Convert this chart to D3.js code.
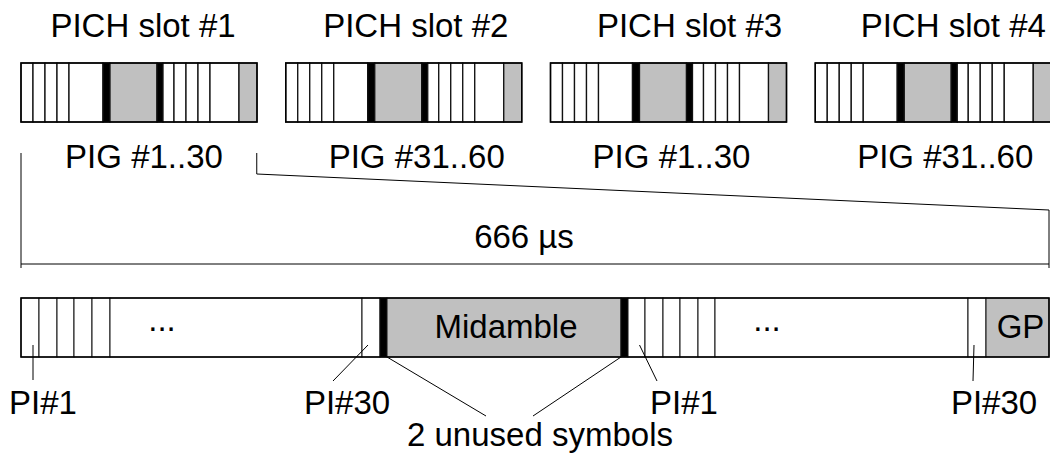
<!DOCTYPE html>
<html>
<head>
<meta charset="utf-8">
<script src="https://d3js.org/d3.v7.min.js"></script>
<style>
  html, body { margin: 0; padding: 0; background: #fff; }
  svg text { font-family: "Liberation Sans", Arial, sans-serif; font-size: 33px; fill: #000; }
</style>
</head>
<body>
<div id="chart"></div>
<script>
// PICH slots shown in the top row
var slotNames = ["PICH slot #1", "PICH slot #2", "PICH slot #3", "PICH slot #4"];
var groupNames = ["PIG #1..30", "PIG #31..60", "PIG #1..30", "PIG #31..60"];

// one slot, schematic (units of the small box, 0..236)
var slotSegStart = [0, 12, 24, 36, 48, 82, 89, 136, 142, 153, 165, 177, 189, 218];
var slotSegEnd   = [12, 24, 36, 48, 82, 89, 136, 142, 153, 165, 177, 189, 218, 236];
var slotSegKind  = ["pi", "pi", "pi", "pi", "free", "unused", "mid", "unused", "pi", "pi", "pi", "pi", "free", "gp"];

// one slot, zoomed (units of the big box, 0..1028)
var burstSegStart = [0, 18, 36, 53, 71, 89, 341, 359, 366, 600, 607, 624, 642, 659, 677, 694, 947, 965];
var burstSegEnd   = [18, 36, 53, 71, 89, 341, 359, 366, 600, 607, 624, 642, 659, 677, 694, 947, 965, 1028];
var burstSegKind  = ["pi", "pi", "pi", "pi", "pi", "free", "pi", "unused", "mid", "unused", "pi", "pi", "pi", "pi", "pi", "free", "pi", "gp"];
var burstSegText  = ["", "", "", "", "", "...", "", "", "Midamble", "", "", "", "", "", "", "...", "", "GP"];

// callouts below the zoomed slot: which segment, label
var calloutSeg   = [0, 6, 10, 16];
var calloutLabel = ["PI#1", "PI#30", "PI#1", "PI#30"];
var unusedSeg = [7, 9];
var unusedLabel = "2 unused symbols";
var durationLabel = "666 µs";

var width = 1050, height = 453;
var fills = { pi: "#fff", free: "#fff", unused: "#000", mid: "#c0c0c0", gp: "#c0c0c0" };

var svg = d3.select("#chart").append("svg")
  .attr("width", width)
  .attr("height", height);

function label(x, y, txt) {
  return svg.append("text")
    .attr("x", x)
    .attr("y", y)
    .attr("text-anchor", "middle")
    .text(txt);
}

function line(x1, y1, x2, y2) {
  svg.append("line")
    .attr("x1", x1).attr("y1", y1).attr("x2", x2).attr("y2", y2)
    .attr("stroke", "#000").attr("stroke-width", 1);
}

// ---- top row
var slotX = d3.scaleLinear().domain([0, 4]).range([21, 1080]);
var slotW = 236, topY = 63, topH = 59;
var pichShift = [4, 12, 21, 20];
var pigShift = [5, 13, 3, 12];

slotNames.forEach(function (name, i) {
  var x0 = slotX(i);
  var u = d3.scaleLinear().domain([0, 236]).range([x0, x0 + slotW]);
  var g = svg.append("g");
  g.selectAll("rect")
    .data(slotSegStart)
    .enter()
    .append("rect")
    .attr("x", function (d) { return u(d); })
    .attr("y", topY)
    .attr("width", function (d, j) { return u(slotSegEnd[j]) - u(d); })
    .attr("height", topH)
    .attr("fill", function (d, j) { return fills[slotSegKind[j]]; })
    .attr("stroke", "#111")
    .attr("stroke-width", 1.3);
  g.append("rect")
    .attr("x", x0).attr("y", topY).attr("width", slotW).attr("height", topH)
    .attr("fill", "none").attr("stroke", "#000").attr("stroke-width", 1.5);

  label(x0 + slotW / 2 + pichShift[i], 37, name);
  label(x0 + slotW / 2 + pigShift[i], 168, groupNames[i]);
});

// ---- zoom bracket and duration
var botX0 = 21, botX1 = 1049, botY = 298, botH = 59;
line(botX0, 153, botX0, 268);
line(botX0, 264, botX1, 264);
line(botX1, 210, botX1, 268);
line(slotX(1) - 29, 153, slotX(1) - 29, 174);
line(slotX(1) - 29, 174, botX1, 210);
label(524, 248, durationLabel);

// ---- zoomed slot
var bx = d3.scaleLinear().domain([0, 1028]).range([botX0, botX1]);
var burst = svg.append("g");
burst.selectAll("rect")
  .data(burstSegStart)
  .enter()
  .append("rect")
  .attr("x", function (d) { return bx(d); })
  .attr("y", botY)
  .attr("width", function (d, j) { return bx(burstSegEnd[j]) - bx(d); })
  .attr("height", botH)
  .attr("fill", function (d, j) { return fills[burstSegKind[j]]; })
  .attr("stroke", "#111")
  .attr("stroke-width", 1);
burst.append("rect")
  .attr("x", botX0).attr("y", botY).attr("width", botX1 - botX0).attr("height", botH)
  .attr("fill", "none").attr("stroke", "#000").attr("stroke-width", 1.5);

burstSegText.forEach(function (t, j) {
  if (!t) return;
  var cx = (bx(burstSegStart[j]) + bx(burstSegEnd[j])) / 2;
  if (t === "...") cx = bx(burstSegStart[j]) + 52;
  if (t === "Midamble") cx += 2;
  if (t === "GP") cx += 3;
  label(cx, t === "..." ? 331 : 338, t);
});

// ---- callouts
var calloutEnd = [[33, 380], [333, 381], [657, 381], [973, 381]];
var calloutFrom = [3, -3, 3, -3];
var calloutText = [43, 347, 684, 994];
calloutSeg.forEach(function (s, i) {
  var cx = (bx(burstSegStart[s]) + bx(burstSegEnd[s])) / 2;
  line(cx + calloutFrom[i], 345, calloutEnd[i][0], calloutEnd[i][1]);
  label(calloutText[i], 414, calloutLabel[i]);
});

line(bx(burstSegEnd[unusedSeg[0]]), botY + botH, 486, 416);
line(bx(burstSegStart[unusedSeg[1]]), botY + botH, 533, 416);
label(540, 446, unusedLabel);
</script>
</body>
</html>
